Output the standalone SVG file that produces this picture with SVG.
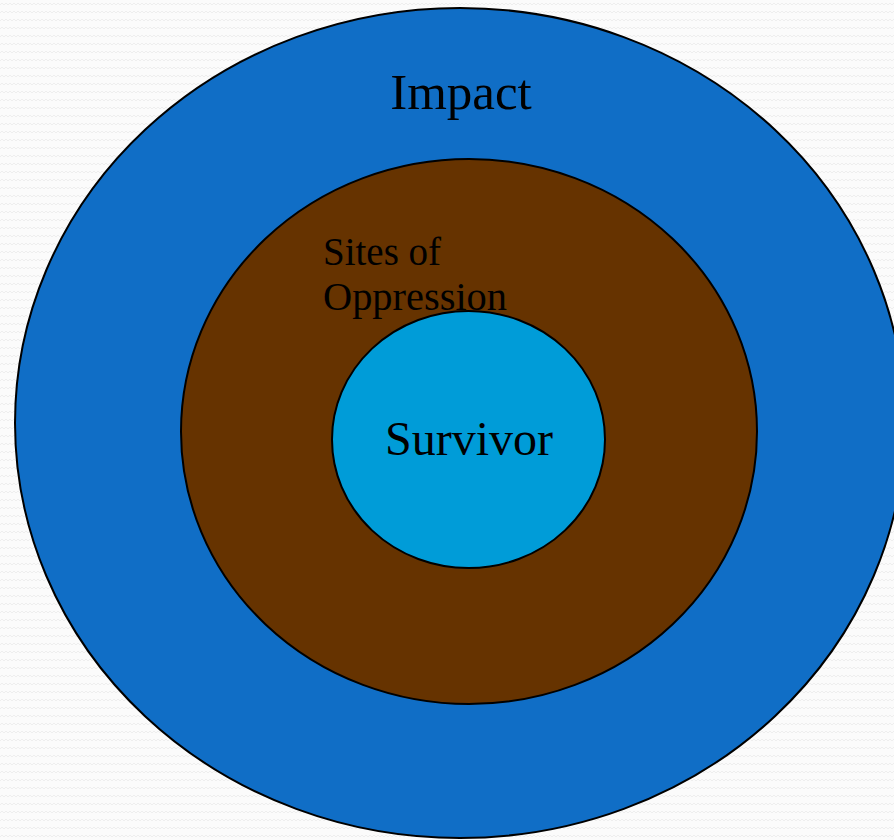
<svg xmlns="http://www.w3.org/2000/svg" width="894" height="840" viewBox="0 0 894 840">
  <defs>
    <pattern id="zig" width="8" height="8" patternUnits="userSpaceOnUse">
      <rect width="8" height="8" fill="#fbfbfb"/>
      <polyline points="0,5 2,3 4,5 6,3 8,5" fill="none" stroke="#eeeeee" stroke-width="1"/>
    </pattern>
  </defs>
  <style>
    .ring { stroke: #000; stroke-width: 2; }
    .lbl { font-family: "Liberation Serif", "Times New Roman", serif; fill: #000; }
  </style>
  <rect width="894" height="840" fill="url(#zig)"/>
  <g id="impact">
    <ellipse class="ring" cx="460" cy="423" rx="445" ry="415" fill="#106EC6"/>
    <text class="lbl" x="461" y="109" font-size="51" text-anchor="middle">Impact</text>
  </g>
  <g id="sites">
    <ellipse class="ring" cx="469" cy="431.5" rx="288" ry="272.5" fill="#663300"/>
    <text class="lbl" x="323" y="265" font-size="39">Sites of</text>
    <text class="lbl" x="323" y="310" font-size="39" textLength="184" lengthAdjust="spacingAndGlyphs">Oppression</text>
  </g>
  <g id="survivor">
    <ellipse class="ring" cx="468.5" cy="439.5" rx="136.5" ry="128.5" fill="#009CD8"/>
    <text class="lbl" x="469" y="455" font-size="48" text-anchor="middle">Survivor</text>
  </g>
  <g id="connectors"/>
</svg>
